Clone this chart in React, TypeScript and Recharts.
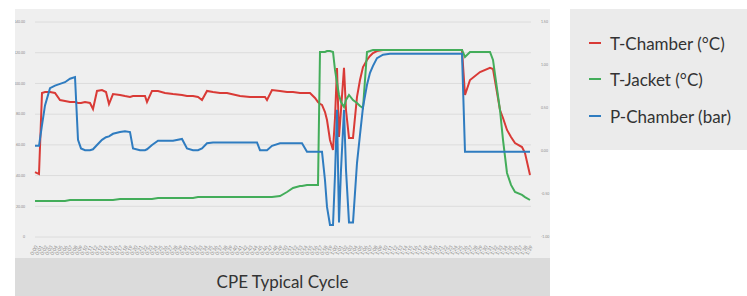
import React from "react";
import { LineChart, Line, XAxis, YAxis, CartesianGrid } from "recharts";

// minutes into the cycle
const TIME = [
  0, 0.8, 1.4, 2, 3, 4, 5, 6, 7, 8, 8.6, 9.2, 10, 11, 11.6, 12.4, 13.4, 14.2, 14.8, 15.6,
  17, 18, 19, 19.6, 21, 22, 22.4, 23.4, 24.6, 26, 27.6, 29.4, 30.4, 31.6, 32.6, 33.4, 34.4, 35.6,
  37, 38.4, 41, 43, 44.4, 45, 46, 46.4, 47.4, 49, 50.4, 51.6, 53, 53.4, 54.4, 55, 56, 56.6,
  57, 57.4, 58, 58.4, 59, 59.6, 60, 60.4, 60.8, 61.2, 61.8, 62.2, 62.8, 63.6, 64.4, 65, 65.6,
  66.4, 67, 67.6, 68.4, 69.6, 71, 77, 84, 85.4, 86, 87, 89, 91, 91.6, 93, 93.6, 94.4, 95.2,
  96, 97.4, 98, 99,
];

const T_CHAMBER = [
  42.3, 41.0, 93.8, 94.4, 94.4, 93.8, 89.2, 88.6, 87.9, 87.9, 87.3, 87.3, 87.9, 87.3, 83.4, 95.1, 95.7, 94.4, 86.6, 93.1,
  92.5, 91.8, 91.2, 91.8, 91.8, 91.8, 87.9, 95.1, 95.1, 93.8, 93.1, 92.5, 91.8, 91.8, 91.2, 89.2, 95.1, 94.4,
  93.8, 93.8, 91.8, 91.2, 91.2, 91.2, 91.2, 89.2, 95.7, 95.1, 94.4, 94.4, 93.8, 93.8, 93.8, 93.8, 90.5, 87.9,
  86.6, 86.0, 81.4, 76.2, 63.2, 56.7, 77.5, 110.1, 65.1, 82.7, 110.1, 82.7, 64.5, 64.5, 91.2, 102.2, 110.7,
  115.3, 117.9, 119.8, 121.1, 121.8, 121.8, 121.8, 121.8, 121.8, 92.5, 102.2, 107.4, 110.1, 109.4, 82.7, 77.5, 69.7, 65.1,
  61.2, 58.6, 54.7, 40.4,
];

const T_JACKET = [
  23.4, 23.4, 23.4, 23.4, 23.4, 23.4, 23.4, 23.4, 24.1, 24.1, 24.1, 24.1, 24.1, 24.1, 24.1, 24.1, 24.1, 24.1, 24.1, 24.1,
  24.7, 24.7, 24.7, 24.7, 24.7, 24.7, 24.7, 24.7, 25.4, 25.4, 25.4, 25.4, 25.4, 25.4, 26.0, 26.0, 26.0, 26.0,
  26.0, 26.0, 26.0, 26.0, 26.0, 26.0, 26.0, 26.0, 26.0, 26.7, 29.3, 31.9, 33.2, 33.2, 33.9, 33.9, 33.9, 33.9,
  120.5, 120.5, 120.5, 121.1, 121.1, 120.5, 108.8, 100.3, 92.5, 87.9, 84.7, 89.2, 92.5, 89.2, 87.3, 85.3, 84.0,
  120.5, 121.1, 121.8, 121.8, 121.8, 121.8, 121.8, 121.8, 121.8, 117.2, 120.5, 120.5, 120.5, 115.3, 82.7, 63.2, 41.7, 33.9,
  29.3, 27.4, 26.0, 24.1,
];

const P_CHAMBER = [
  0.06, 0.06, 0.3, 0.53, 0.73, 0.76, 0.78, 0.8, 0.84, 0.86, 0.13, 0.03, 0.01, 0.01, 0.02, 0.07, 0.13, 0.16, 0.17, 0.2,
  0.22, 0.23, 0.22, 0.03, 0.01, 0.01, 0.02, 0.07, 0.12, 0.12, 0.12, 0.14, 0.03, 0.01, 0.01, 0.03, 0.09, 0.1,
  0.1, 0.1, 0.1, 0.1, 0.1, 0.01, 0.01, 0.01, 0.06, 0.09, 0.09, 0.09, 0.09, 0.09, -0.01, -0.01, -0.01, -0.01,
  -0.01, -0.01, -0.34, -0.65, -0.86, -0.86, -0.28, 0.48, -0.83, -0.22, 0.48, -0.22, -0.83, -0.83, -0.14, 0.19, 0.51,
  0.77, 0.91, 0.99, 1.08, 1.12, 1.13, 1.13, 1.13, 1.13, -0.01, -0.01, -0.01, -0.01, -0.01, -0.01, -0.01, -0.01, -0.01,
  -0.01, -0.01, -0.01, -0.01,
];

const LEFT_TICKS = [0, 20, 40, 60, 80, 100, 120, 140];
const RIGHT_TICKS = [-1, -0.5, 0, 0.5, 1, 1.5];
const X_TICKS = Array.from({ length: 100 }, (_, i) => i);

const SERIES = [
  { key: "chamber", name: "T-Chamber (°C)", color: "#d93a36", axis: "left" },
  { key: "jacket", name: "T-Jacket (°C)", color: "#43ad5a", axis: "left" },
  { key: "pressure", name: "P-Chamber (bar)", color: "#2f7cc0", axis: "right" },
];

const data = TIME.map((t, i) => ({
  t,
  chamber: T_CHAMBER[i],
  jacket: T_JACKET[i],
  pressure: P_CHAMBER[i],
}));

const fmtTime = (m: number) => {
  const h = Math.floor(m / 60);
  const mm = String(Math.round(m % 60)).padStart(2, "0");
  return `${h}:${mm}`;
};

const font = "Lato, 'Open Sans', sans-serif";

export default function App() {
  return (
    <div style={{ position: "absolute", left: 0, top: 0, width: 747, height: 296, background: "#fff", fontFamily: font }}>
      <div style={{ position: "absolute", left: 15, top: 9, width: 535, height: 249, background: "#efefef" }}>
        <LineChart width={535} height={249} data={data} margin={{ top: 13, right: 0, bottom: 0, left: 0 }}>
          <CartesianGrid yAxisId="left" vertical={false} stroke="#dcdcdc" />
          <XAxis
            dataKey="t"
            type="number"
            domain={[0, 99.2]}
            ticks={X_TICKS}
            interval={0}
            tickFormatter={fmtTime}
            height={21}
            axisLine={false}
            tickLine={false}
            angle={-60}
            textAnchor="end"
            tick={{ fontSize: 5, fill: "#8c8c8c" }}
          />
          <YAxis
            yAxisId="left"
            width={20}
            domain={[0, 140]}
            ticks={LEFT_TICKS}
            tickFormatter={(v: number) => (v === 0 ? "0" : v.toFixed(2))}
            axisLine={false}
            tickLine={false}
            tickMargin={4}
            tick={{ fontSize: 3.5, fill: "#8a8a8a" }}
          />
          <YAxis
            yAxisId="right"
            orientation="right"
            width={19}
            domain={[-1, 1.5]}
            ticks={RIGHT_TICKS}
            tickFormatter={(v: number) => v.toFixed(2)}
            axisLine={false}
            tickLine={false}
            tickMargin={4}
            tick={{ fontSize: 3.5, fill: "#8a8a8a" }}
          />
          {SERIES.map((s) => (
            <Line
              key={s.key}
              yAxisId={s.axis}
              dataKey={s.key}
              type="linear"
              stroke={s.color}
              strokeWidth={2}
              dot={false}
              isAnimationActive={false}
            />
          ))}
        </LineChart>
      </div>
      <div
        style={{
          position: "absolute",
          left: 15,
          top: 258,
          width: 535,
          height: 38,
          background: "#dbdbdb",
          color: "#333",
          fontSize: 17,
          lineHeight: "20px",
          paddingTop: 14,
          boxSizing: "border-box",
          textAlign: "center",
        }}
      >
        CPE Typical Cycle
      </div>
      <div style={{ position: "absolute", left: 570, top: 9, width: 177, height: 141, background: "#ebebeb" }}>
        {SERIES.map((s, i) => (
          <div
            key={s.key}
            style={{
              position: "absolute",
              left: 19,
              top: [33, 69, 106][i] - 9,
              height: 20,
              display: "flex",
              alignItems: "center",
              fontSize: 17,
              color: "#333",
              whiteSpace: "nowrap",
            }}
          >
            <span style={{ display: "inline-block", width: 12, height: 2.5, background: s.color, marginRight: 9 }} />
            {s.name}
          </div>
        ))}
      </div>
    </div>
  );
}
